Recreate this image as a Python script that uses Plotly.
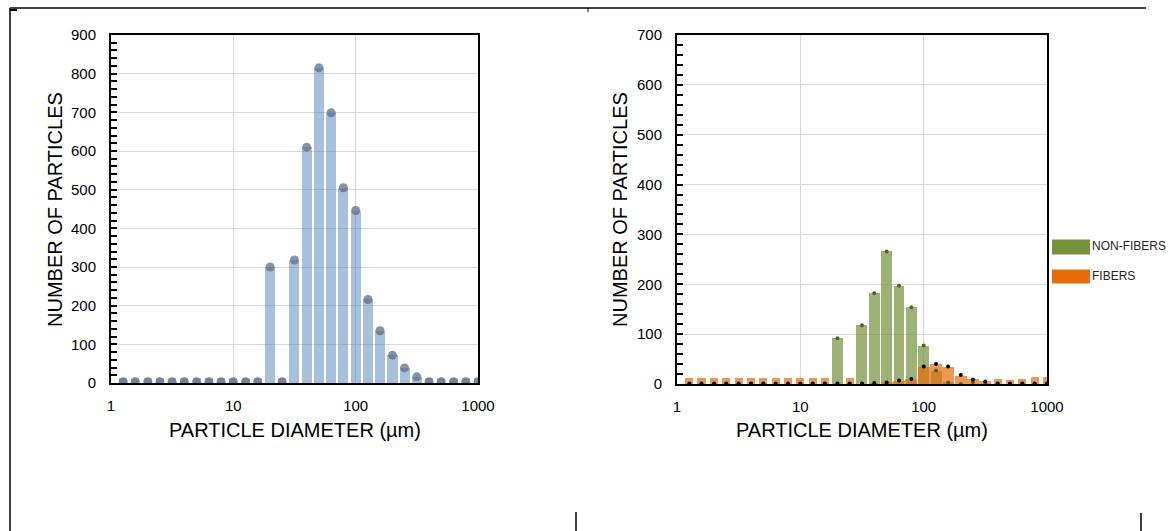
import numpy as np
import plotly.graph_objects as go

# ---------------- data ----------------
# bin centres (particle diameter, µm), 10 bins per decade
diameter_um = [1.26, 1.58, 2.0, 2.51, 3.16, 3.98, 5.01, 6.31, 7.94, 10.0,
               12.6, 15.8, 20.0, 25.1, 31.6, 39.8, 50.1, 63.1, 79.4, 100.0,
               126, 158, 200, 251, 316, 398, 501, 631, 794, 1000]

# left panel: all particles (bar heights and marker values)
total_bar = [12, 12, 12, 12, 12, 12, 12, 12, 12, 12,
             12, 12, 300, 12, 318, 610, 815, 699, 505, 446,
             216, 135, 72, 39, 16, 12, 12, 12, 12, 12]
total_marker = [3, 3, 3, 3, 3, 3, 3, 3, 3, 3,
                3, 3, 300, 3, 318, 610, 815, 699, 505, 446,
                216, 135, 72, 39, 16, 3, 3, 3, 3, 3]

# right panel: non-fibers and fibers
nonfiber_bar = [0, 0, 0, 0, 0, 0, 0, 0, 0, 0,
                0, 0, 92, 0, 118, 182, 266, 197, 154, 77,
                27, 3, 0, 0, 0, 0, 0, 0, 0, 0]
nonfiber_marker = [0, 0, 0, 0, 0, 0, 0, 0, 0, 0,
                   0, 0, 92, 0, 118, 182, 266, 197, 154, 77,
                   27, 3, 0, 4, 1, 0, 0, 0, 0, 0]
fiber_bar = [13, 13, 13, 13, 13, 13, 13, 13, 13, 13,
             13, 13, 0, 13, 0, 2, 3, 7, 10, 35,
             40, 35, 17, 10, 6, 11, 8, 11, 14, 14]
fiber_marker = [1, 1, 1, 1, 1, 1, 1, 1, 1, 1,
                1, 1, 1, 1, 1, 2, 3, 7, 10, 35,
                40, 35, 18, 9, 5, 1, 1, 1, 1, 1]

series_names = ["NON-FIBERS", "FIBERS"]
x_tick_vals = [1, 10, 100, 1000]
x_tick_text = ["1", "10", "100", "1000"]

# ---------------- styling helpers ----------------
W, H = 1170, 531
FONT = "Liberation Sans, Arial, sans-serif"
xpos = np.log10(diameter_um)


def px(x):
    return x / W


def py(y):
    return 1 - y / H


left_w = [0.065 if m < 8 else 0.082 for m in total_marker]
fiber_w = [0.065 if m < 3 else 0.098 for m in fiber_marker]

fig = go.Figure()

# left panel
fig.add_trace(go.Bar(x=xpos, y=total_bar, width=left_w,
                     marker=dict(color="#4f81bd", opacity=0.5, line=dict(width=0)),
                     xaxis="x", yaxis="y", showlegend=False))
fig.add_trace(go.Scatter(x=xpos, y=total_marker, mode="markers",
                         marker=dict(color="#5f6f85", size=9, opacity=0.75),
                         xaxis="x", yaxis="y", showlegend=False))

# right panel
fig.add_trace(go.Bar(x=xpos, y=nonfiber_bar, width=0.089, name=series_names[0],
                     marker=dict(color="#76923c", opacity=0.7, line=dict(width=0)),
                     xaxis="x2", yaxis="y2", showlegend=False))
fig.add_trace(go.Bar(x=xpos, y=fiber_bar, width=fiber_w, name=series_names[1],
                     marker=dict(color="#e46c0a", opacity=0.7, line=dict(width=0)),
                     xaxis="x2", yaxis="y2", showlegend=False))
fig.add_trace(go.Scatter(x=xpos, y=nonfiber_marker, mode="markers",
                         marker=dict(color="#4f6228", size=4),
                         xaxis="x2", yaxis="y2", showlegend=False))
fig.add_trace(go.Scatter(x=xpos, y=fiber_marker, mode="markers",
                         marker=dict(color="#000000", size=4),
                         xaxis="x2", yaxis="y2", showlegend=False))

# legend labels drawn as text on a full-page pixel overlay axis
fig.add_trace(go.Scatter(x=[1092, 1092], y=[247, 276.5], mode="text",
                         text=series_names, textposition="middle right",
                         textfont=dict(size=12, color="#262626", family=FONT),
                         xaxis="x3", yaxis="y3", showlegend=False,
                         hoverinfo="skip", cliponaxis=False))

xlog_vals = list(np.log10(x_tick_vals))
common_x = dict(range=[0, 3], tickvals=xlog_vals, ticktext=x_tick_text,
                showgrid=True, gridcolor="#d9d9d9", gridwidth=1,
                showline=True, linecolor="black", linewidth=2, mirror=True,
                ticks="", zeroline=False, ticklabelstandoff=8,
                tickfont=dict(size=15, color="black", family=FONT))
common_y = dict(dtick=100, showgrid=True, gridcolor="#d9d9d9", gridwidth=1,
                showline=True, linecolor="black", linewidth=2, mirror=True,
                ticks="inside", ticklen=6, tickwidth=2, tickcolor="black",
                minor=dict(dtick=20, ticks="inside", ticklen=6, tickwidth=2,
                           tickcolor="black", showgrid=False),
                zeroline=False, ticklabelstandoff=10,
                tickfont=dict(size=15, color="black", family=FONT))
hidden = dict(visible=False, showgrid=False, zeroline=False, fixedrange=True)

fig.update_layout(
    width=W, height=H,
    margin=dict(l=0, r=0, t=0, b=0, pad=0, autoexpand=False),
    paper_bgcolor="white", plot_bgcolor="rgba(0,0,0,0)",
    barmode="overlay", bargap=0,
    font=dict(family=FONT, color="black"),
    xaxis=dict(domain=[px(111), px(478)], anchor="y", **common_x),
    yaxis=dict(domain=[py(383), py(35)], anchor="x", range=[0, 900], **common_y),
    xaxis2=dict(domain=[px(677), px(1047)], anchor="y2", **common_x),
    yaxis2=dict(domain=[py(384), py(35)], anchor="x2", range=[0, 700], **common_y),
    xaxis3=dict(domain=[0, 1], range=[0, W], anchor="y3", **hidden),
    yaxis3=dict(domain=[0, 1], range=[H, 0], anchor="x3", **hidden),
)

# axis titles
ann = []
title_font = dict(size=20, color="black", family=FONT)
ann.append(dict(text="PARTICLE DIAMETER (µm)", x=px(294.5), y=py(430),
                xref="paper", yref="paper", showarrow=False,
                xanchor="center", yanchor="middle", font=title_font))
ann.append(dict(text="PARTICLE DIAMETER (µm)", x=px(862), y=py(430),
                xref="paper", yref="paper", showarrow=False,
                xanchor="center", yanchor="middle", font=title_font))
ann.append(dict(text="NUMBER OF PARTICLES", x=px(55), y=py(210),
                xref="paper", yref="paper", showarrow=False, textangle=-90,
                xanchor="center", yanchor="middle", font=title_font))
ann.append(dict(text="NUMBER OF PARTICLES", x=px(620), y=py(210),
                xref="paper", yref="paper", showarrow=False, textangle=-90,
                xanchor="center", yanchor="middle", font=title_font))
fig.update_layout(annotations=ann)

shapes = [
    # legend swatches
    dict(type="rect", xref="paper", yref="paper", x0=px(1052), x1=px(1090),
         y0=py(254.5), y1=py(239.5), fillcolor="#76923c", line=dict(width=0)),
    dict(type="rect", xref="paper", yref="paper", x0=px(1052), x1=px(1090),
         y0=py(283.5), y1=py(269.5), fillcolor="#e46c0a", line=dict(width=0)),
    # page frame lines
    dict(type="line", xref="paper", yref="paper", x0=px(10), x1=px(1146),
         y0=py(8), y1=py(8), line=dict(color="black", width=1.5)),
    dict(type="line", xref="paper", yref="paper", x0=px(10), x1=px(10),
         y0=py(8), y1=py(531), line=dict(color="black", width=1.5)),
    dict(type="line", xref="paper", yref="paper", x0=px(10), x1=px(17),
         y0=py(10), y1=py(10), line=dict(color="black", width=2)),
    dict(type="line", xref="paper", yref="paper", x0=px(588), x1=px(588),
         y0=py(8), y1=py(12), line=dict(color="black", width=1)),
    dict(type="line", xref="paper", yref="paper", x0=px(576), x1=px(576),
         y0=py(512), y1=py(531), line=dict(color="black", width=1.5)),
    dict(type="line", xref="paper", yref="paper", x0=px(1141), x1=px(1141),
         y0=py(513), y1=py(531), line=dict(color="black", width=1.5)),
]
fig.update_layout(shapes=shapes)

fig.write_html(
    "out.html",
    config={"displayModeBar": False},
    post_script="document.body.style.margin='0';document.body.style.overflow='hidden';",
)
